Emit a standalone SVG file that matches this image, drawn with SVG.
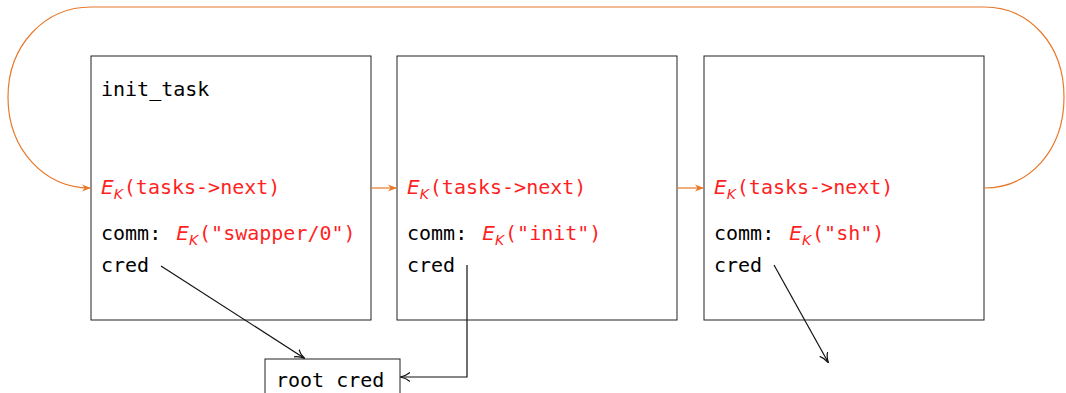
<svg xmlns="http://www.w3.org/2000/svg" width="1066" height="393" viewBox="0 0 1066 393">
<style>
.box{fill:#fff;stroke:#222;stroke-width:1}
.t{font-family:"DejaVu Sans Mono","Liberation Mono",monospace;font-size:20px;fill:#000}
.r{fill:#ff1f1f}
.e{font-family:"DejaVu Sans","Liberation Sans",sans-serif;font-style:italic}
.ek{font-family:"DejaVu Sans","Liberation Sans",sans-serif;font-style:italic;font-size:14px}
.o{fill:none;stroke:#e8782a;stroke-width:1.2}
.k{fill:none;stroke:#111;stroke-width:1.2}
</style>
<defs>
<marker id="ao" viewBox="0 0 10 10" refX="9" refY="5" markerWidth="9" markerHeight="9" markerUnits="userSpaceOnUse" orient="auto"><path d="M0,1 L10,5 L0,9 L3,5 Z" fill="#e8782a"/></marker>
<marker id="ak" viewBox="0 0 10 10" refX="9" refY="5" markerWidth="10" markerHeight="10" markerUnits="userSpaceOnUse" orient="auto"><path d="M0,0.5 Q4,4 10,5 Q4,6 0,9.5" fill="none" stroke="#111" stroke-width="1.2"/></marker>
</defs>
<g id="task0">
<rect class="box" x="91" y="56" width="280" height="264"/>
<text class="t" x="101" y="96">init_task</text>
<text class="t r" x="101" y="194"><tspan class="e">E</tspan><tspan class="ek" dy="5">K</tspan><tspan dy="-5" dx="1">(tasks-&gt;next)</tspan></text>
<text class="t" x="101" y="240">comm: <tspan class="r e" dx="3">E</tspan><tspan class="r ek" dy="5">K</tspan><tspan class="r" dy="-5" dx="1">("swapper/0")</tspan></text>
<text class="t" x="101" y="272">cred</text>
</g>
<g id="task1">
<rect class="box" x="397" y="56" width="280" height="264"/>
<text class="t r" x="407" y="194"><tspan class="e">E</tspan><tspan class="ek" dy="5">K</tspan><tspan dy="-5" dx="1">(tasks-&gt;next)</tspan></text>
<text class="t" x="407" y="240">comm: <tspan class="r e" dx="3">E</tspan><tspan class="r ek" dy="5">K</tspan><tspan class="r" dy="-5" dx="1">("init")</tspan></text>
<text class="t" x="407" y="272">cred</text>
</g>
<g id="task2">
<rect class="box" x="704" y="56" width="280" height="264"/>
<text class="t r" x="714" y="194"><tspan class="e">E</tspan><tspan class="ek" dy="5">K</tspan><tspan dy="-5" dx="1">(tasks-&gt;next)</tspan></text>
<text class="t" x="714" y="240">comm: <tspan class="r e" dx="3">E</tspan><tspan class="r ek" dy="5">K</tspan><tspan class="r" dy="-5" dx="1">("sh")</tspan></text>
<text class="t" x="714" y="272">cred</text>
</g>
<g id="rootcred">
<rect class="box" x="265" y="359" width="135" height="40"/>
<text class="t" x="276" y="387">root cred</text>
</g>
<g id="connectors">
<path class="o" d="M984,188 C1030,188 1064,150 1064,97 C1064,45 1030,7 984,7 L91,7 C45,7 8,45 8,97 C8,150 45,188 90,188" marker-end="url(#ao)"/>
<path class="o" d="M371,188 L396,188" marker-end="url(#ao)"/>
<path class="o" d="M677,188 L703,188" marker-end="url(#ao)"/>
<path class="k" d="M161,266 L304,358" marker-end="url(#ak)"/>
<path class="k" d="M467,265 L467,377 L401,377" marker-end="url(#ak)"/>
<path class="k" d="M774,265 L828,362" marker-end="url(#ak)"/>
</g>
</svg>
